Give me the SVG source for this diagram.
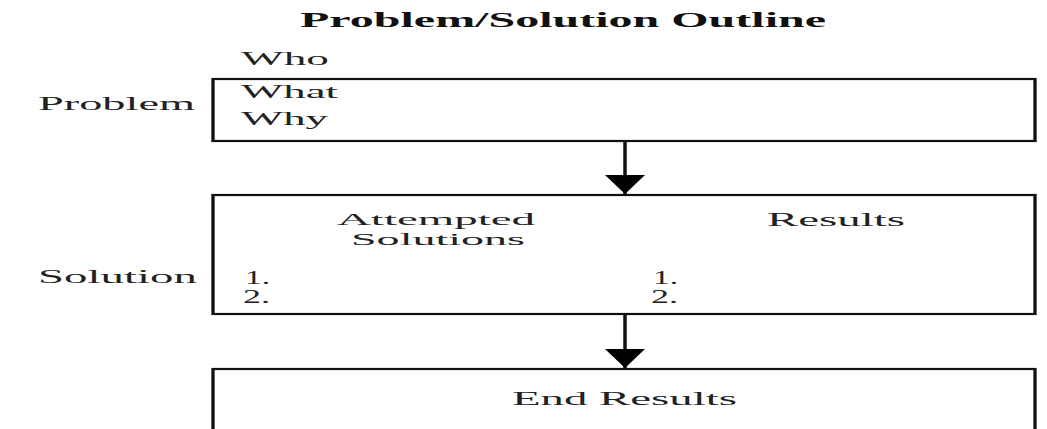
<svg xmlns="http://www.w3.org/2000/svg" width="1047" height="429" viewBox="0 0 1047 429">
  <style>
    .t { font-family: "Liberation Serif", "Times New Roman", serif; font-size: 18px; fill: #222; }
    .s { font-size: 16px; }
    .title { font-family: "Liberation Serif", "Times New Roman", serif; font-size: 20px; font-weight: bold; fill: #111; }
    .box { fill: #ffffff; stroke: #111; stroke-width: 2.2; }
    .conn { stroke: #111; stroke-width: 3.5; fill: none; }
  </style>
  <defs>
    <marker id="arrow" markerUnits="userSpaceOnUse" markerWidth="19" markerHeight="40" viewBox="0 0 19 40" refX="19" refY="20" orient="auto">
      <path d="M0,0 L19,20 L0,40 Z" fill="#000"/>
    </marker>
  </defs>
  <rect width="1047" height="429" fill="#ffffff"/>

  <text class="title" x="300" y="27" textLength="526" lengthAdjust="spacingAndGlyphs">Problem/Solution Outline</text>

  <g id="problem">
    <rect class="box" x="142" y="79" width="548" height="62" transform="scale(1.5,1)"/>
    <text class="t" x="38" y="110" textLength="157" lengthAdjust="spacingAndGlyphs">Problem</text>
    <text class="t" x="241" y="65" textLength="88" lengthAdjust="spacingAndGlyphs">Who</text>
    <text class="t" x="241" y="98" textLength="97" lengthAdjust="spacingAndGlyphs">What</text>
    <text class="t" x="241" y="125" textLength="87" lengthAdjust="spacingAndGlyphs">Why</text>
  </g>

  <g id="solution">
    <rect class="box" x="142" y="195" width="548" height="119" transform="scale(1.5,1)"/>
    <text class="t" x="38" y="283" textLength="159" lengthAdjust="spacingAndGlyphs">Solution</text>
    <text class="t s" x="337" y="225" textLength="198" lengthAdjust="spacingAndGlyphs">Attempted</text>
    <text class="t s" x="351" y="245" textLength="174" lengthAdjust="spacingAndGlyphs">Solutions</text>
    <text class="t" x="767" y="226" textLength="138" lengthAdjust="spacingAndGlyphs">Results</text>
    <text class="t" x="245" y="284" textLength="25" lengthAdjust="spacingAndGlyphs">1.</text>
    <text class="t" x="243" y="303" textLength="27" lengthAdjust="spacingAndGlyphs">2.</text>
    <text class="t" x="653" y="284" textLength="25" lengthAdjust="spacingAndGlyphs">1.</text>
    <text class="t" x="651" y="303" textLength="27" lengthAdjust="spacingAndGlyphs">2.</text>
  </g>

  <g id="end-results">
    <rect class="box" x="142" y="369" width="548" height="80" transform="scale(1.5,1)"/>
    <text class="t" x="512" y="405" textLength="225" lengthAdjust="spacingAndGlyphs">End Results</text>
  </g>

  <g id="connectors">
    <line class="conn" x1="625" y1="142" x2="625" y2="194" marker-end="url(#arrow)"/>
    <line class="conn" x1="625" y1="315" x2="625" y2="368" marker-end="url(#arrow)"/>
  </g>
</svg>
